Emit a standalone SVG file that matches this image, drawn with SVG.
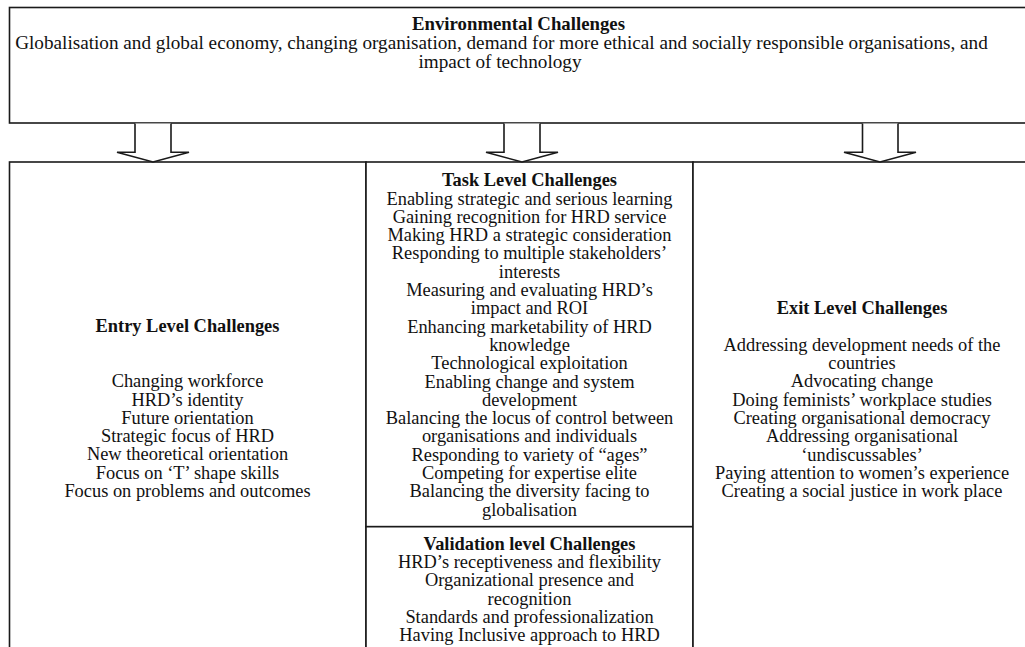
<svg xmlns="http://www.w3.org/2000/svg" width="1025" height="647" viewBox="0 0 1025 647">
<style>
.box{fill:#fff;stroke:#1a1a1a;stroke-width:1.6}
.arr{fill:#fff;stroke:#1a1a1a;stroke-width:1.6;stroke-linejoin:miter}
text{font-family:"Liberation Serif","Times New Roman",serif;font-size:18.4px;fill:#111;text-anchor:middle}
.b{font-weight:bold}
.t{font-size:19.2px}
.tb{font-size:18.8px;font-weight:bold}
</style>
<rect width="1025" height="647" fill="#fff"/>
<g id="environmental">
<rect class="box" x="9.5" y="7.5" width="1030" height="115.5"/>
<text class="tb" x="518.5" y="29.5">Environmental Challenges</text>
<text class="t" x="501.5" y="49">Globalisation and global economy, changing organisation, demand for more ethical and socially responsible organisations, and</text>
<text class="t" x="500" y="68">impact of technology</text>
</g>
<g id="entry">
<rect class="box" x="9.5" y="162" width="356.5" height="500"/>
<text class="b" x="187.5" y="332">Entry Level Challenges</text>
<text x="187.5" y="387.2">Changing workforce</text>
<text x="187.5" y="405.5">HRD’s identity</text>
<text x="187.5" y="423.8">Future orientation</text>
<text x="187.5" y="442.1">Strategic focus of HRD</text>
<text x="187.5" y="460.4">New theoretical orientation</text>
<text x="187.5" y="478.7">Focus on ‘T’ shape skills</text>
<text x="187.5" y="497">Focus on problems and outcomes</text>
</g>
<g id="task">
<rect class="box" x="366" y="162" width="327" height="364.7"/>
<text class="b" x="529.5" y="186.2">Task Level Challenges</text>
<text x="529.5" y="204.5">Enabling strategic and serious learning</text>
<text x="529.5" y="222.8">Gaining recognition for HRD service</text>
<text x="529.5" y="241.1">Making HRD a strategic consideration</text>
<text x="529.5" y="259.4">Responding to multiple stakeholders’</text>
<text x="529.5" y="277.7">interests</text>
<text x="529.5" y="296">Measuring and evaluating HRD’s</text>
<text x="529.5" y="314.3">impact and ROI</text>
<text x="529.5" y="332.6">Enhancing marketability of HRD</text>
<text x="529.5" y="350.9">knowledge</text>
<text x="529.5" y="369.2">Technological exploitation</text>
<text x="529.5" y="387.5">Enabling change and system</text>
<text x="529.5" y="405.8">development</text>
<text x="529.5" y="424.1">Balancing the locus of control between</text>
<text x="529.5" y="442.4">organisations and individuals</text>
<text x="529.5" y="460.7">Responding to variety of “ages”</text>
<text x="529.5" y="479">Competing for expertise elite</text>
<text x="529.5" y="497.3">Balancing the diversity facing to</text>
<text x="529.5" y="515.6">globalisation</text>
</g>
<g id="validation">
<rect class="box" x="366" y="526.7" width="327" height="140"/>
<text class="b" x="529.5" y="549.8">Validation level Challenges</text>
<text x="529.5" y="568.1">HRD’s receptiveness and flexibility</text>
<text x="529.5" y="586.4">Organizational presence and</text>
<text x="529.5" y="604.7">recognition</text>
<text x="529.5" y="623">Standards and professionalization</text>
<text x="529.5" y="641.3">Having Inclusive approach to HRD</text>
</g>
<g id="exit">
<rect class="box" x="693" y="162" width="346" height="500"/>
<text class="b" x="862" y="314">Exit Level Challenges</text>
<text x="862" y="350.7">Addressing development needs of the</text>
<text x="862" y="369">countries</text>
<text x="862" y="387.3">Advocating change</text>
<text x="862" y="405.6">Doing feminists’ workplace studies</text>
<text x="862" y="423.9">Creating organisational democracy</text>
<text x="862" y="442.2">Addressing organisational</text>
<text x="862" y="460.5">‘undiscussables’</text>
<text x="862" y="478.8">Paying attention to women’s experience</text>
<text x="862" y="497.1">Creating a social justice in work place</text>
</g>
<g id="connectors">
<path class="arr" d="M135,123.5 V152.3 H117 L153,162 L189,152.3 H171 V123.5"/>
<path class="arr" d="M504,123.5 V152.3 H486 L522,162 L558,152.3 H540 V123.5"/>
<path class="arr" d="M862.5,123.5 V152.3 H844 L880,162 L916,152.3 H898 V123.5"/>
</g>
</svg>
